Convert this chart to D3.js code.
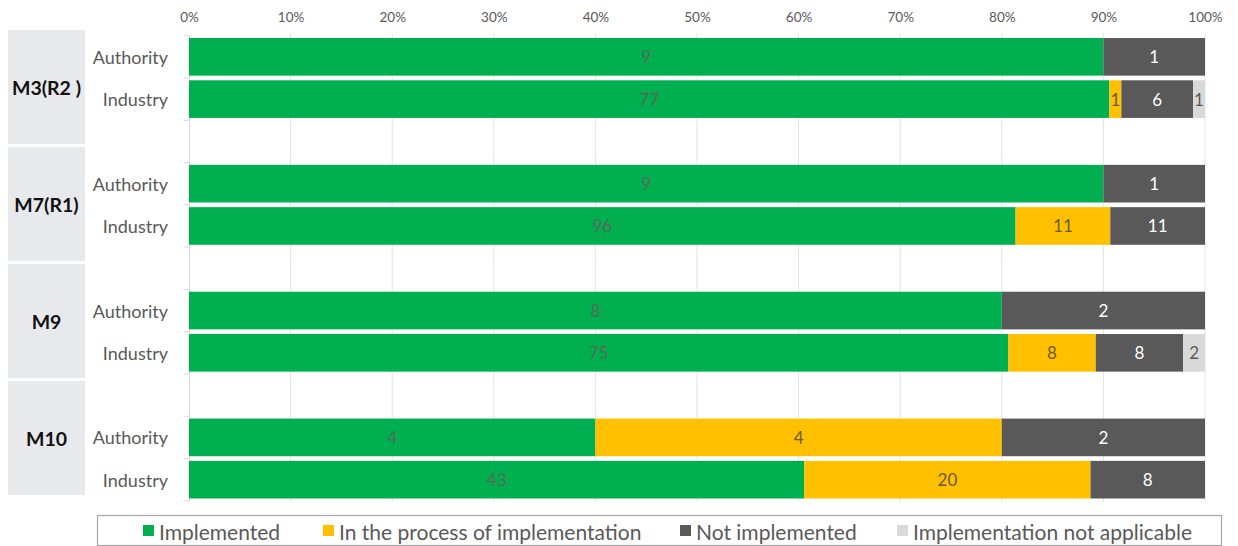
<!DOCTYPE html>
<html>
<head>
<meta charset="utf-8">
<script src="https://cdn.jsdelivr.net/npm/d3@7"></script>
<style>
  html, body { margin: 0; padding: 0; background: #fff; }
  svg { display: block; font-family: "Lato", "Open Sans", sans-serif; }
</style>
</head>
<body>
<svg id="chart" width="1238" height="546"></svg>
<script>
// Measures and respondent types
const groups = ["M3(R2 )", "M7(R1)", "M9", "M10"];
const roles = ["Authority", "Industry"];

// Counts per bar, ordered M3 Auth, M3 Ind, M7 Auth, M7 Ind, M9 Auth, M9 Ind, M10 Auth, M10 Ind
const implemented    = [9, 77, 9, 96, 8, 75, 4, 43];
const inProcess      = [0, 1, 0, 11, 0, 8, 4, 20];
const notImplemented = [1, 6, 1, 11, 2, 8, 2, 8];
const notApplicable  = [0, 1, 0, 0, 0, 2, 0, 0];

const seriesNames = ["Implemented", "In the process of implementation", "Not implemented", "Implementation not applicable"];
const seriesValues = [implemented, inProcess, notImplemented, notApplicable];
const seriesColors = ["#00B050", "#FFC000", "#595959", "#D9D9D9"];
const labelColors  = ["#56695a", "#6b5a2a", "#ffffff", "#595959"];

const tickValues = [0, 0.1, 0.2, 0.3, 0.4, 0.5, 0.6, 0.7, 0.8, 0.9, 1];
const tickLabels = ["0%", "10%", "20%", "30%", "40%", "50%", "60%", "70%", "80%", "90%", "100%"];

// Build rows: each group uses three slots (two bars plus a spacer)
const rows = [];
groups.forEach((g, gi) => {
  roles.forEach((r, ri) => {
    const idx = gi * 2 + ri;
    const vals = seriesValues.map(s => s[idx]);
    const total = d3.sum(vals);
    rows.push({ group: g, role: r, slot: gi * 3 + ri, vals, total });
  });
});

const svg = d3.select("#chart");

const x = d3.scaleLinear().domain([0, 1]).range([189, 1205]);
const y = d3.scaleBand()
  .domain(d3.range(11))
  .range([38, 498.5])
  .paddingInner(0.11)
  .paddingOuter(0);

const gap = y.step() * y.paddingInner();

// Group header boxes on the left
const boxTop = 30, boxBottom = 495, boxGap = 3;
const boxH = (boxBottom - boxTop + boxGap) / groups.length - boxGap;
const boxes = svg.append("g");
groups.forEach((g, gi) => {
  const top = boxTop + gi * (boxH + boxGap);
  boxes.append("rect")
    .attr("x", 8).attr("y", top)
    .attr("width", 77).attr("height", boxH)
    .attr("fill", "#E8E9EC");
  boxes.append("text")
    .attr("x", 46.5).attr("y", top + boxH / 2)
    .attr("text-anchor", "middle")
    .attr("dominant-baseline", "central")
    .attr("font-size", 19.5).attr("font-weight", "bold")
    .attr("fill", "#111")
    .text(g);
});

// Vertical gridlines
svg.append("g")
  .selectAll("line")
  .data(tickValues.slice(1))
  .join("line")
  .attr("x1", d => x(d)).attr("x2", d => x(d))
  .attr("y1", 33).attr("y2", 502)
  .attr("stroke", "#E3E3E3").attr("stroke-width", 1);

// Top percentage axis
const xAxis = d3.axisTop(x)
  .tickValues(tickValues)
  .tickFormat((d, i) => tickLabels[i])
  .tickSize(0).tickPadding(0);
const ax = svg.append("g").attr("transform", "translate(0,22)").call(xAxis);
ax.select(".domain").remove();
ax.selectAll("text")
  .attr("font-size", 13.5)
  .attr("fill", "#595959")
  .attr("font-family", "Lato, 'Open Sans', sans-serif");

// Category axis line and ticks at slot boundaries
const cat = svg.append("g");
cat.append("line")
  .attr("x1", 189.5).attr("x2", 189.5)
  .attr("y1", y(0) - gap / 2).attr("y2", y(10) + y.bandwidth() + gap / 2)
  .attr("stroke", "#D9D9D9");
cat.selectAll("line.tk")
  .data(d3.range(12))
  .join("line")
  .attr("class", "tk")
  .attr("x1", 184).attr("x2", 189.5)
  .attr("y1", i => (i < 11 ? y(i) : y(10) + y.step()) - gap / 2)
  .attr("y2", i => (i < 11 ? y(i) : y(10) + y.step()) - gap / 2)
  .attr("stroke", "#D9D9D9");

// Role labels
svg.append("g")
  .selectAll("text")
  .data(rows)
  .join("text")
  .attr("x", 168)
  .attr("y", d => y(d.slot) + y.bandwidth() / 2)
  .attr("text-anchor", "end")
  .attr("dominant-baseline", "central")
  .attr("font-size", 18)
  .attr("fill", "#595959")
  .text(d => d.role);

// Stacked segments
const segs = [];
rows.forEach(r => {
  let acc = 0;
  r.vals.forEach((v, si) => {
    if (v > 0) {
      segs.push({ row: r, si, v, x0: acc / r.total, x1: (acc + v) / r.total });
    }
    acc += v;
  });
});

const bars = svg.append("g");
bars.selectAll("rect")
  .data(segs)
  .join("rect")
  .attr("x", d => x(d.x0))
  .attr("y", d => y(d.row.slot))
  .attr("width", d => x(d.x1) - x(d.x0))
  .attr("height", y.bandwidth())
  .attr("fill", d => seriesColors[d.si]);

bars.selectAll("text")
  .data(segs)
  .join("text")
  .attr("x", d => (x(d.x0) + x(d.x1)) / 2)
  .attr("y", d => y(d.row.slot) + y.bandwidth() / 2)
  .attr("text-anchor", "middle")
  .attr("dominant-baseline", "central")
  .attr("font-size", 17)
  .attr("fill", d => labelColors[d.si])
  .text(d => d.v);

// Legend
const legend = svg.append("g");
legend.append("rect")
  .attr("x", 97.5).attr("y", 515.5)
  .attr("width", 1124).attr("height", 30)
  .attr("fill", "#fff").attr("stroke", "#A6A6A6").attr("stroke-width", 1.2);
const legendX = [143, 323, 680, 897];
seriesNames.forEach((name, i) => {
  legend.append("rect")
    .attr("x", legendX[i]).attr("y", 525)
    .attr("width", 11).attr("height", 11)
    .attr("fill", seriesColors[i]);
  legend.append("text")
    .attr("x", legendX[i] + 16).attr("y", 531)
    .attr("dominant-baseline", "central")
    .attr("font-size", 21)
    .attr("fill", "#595959")
    .text(name);
});
</script>
</body>
</html>
